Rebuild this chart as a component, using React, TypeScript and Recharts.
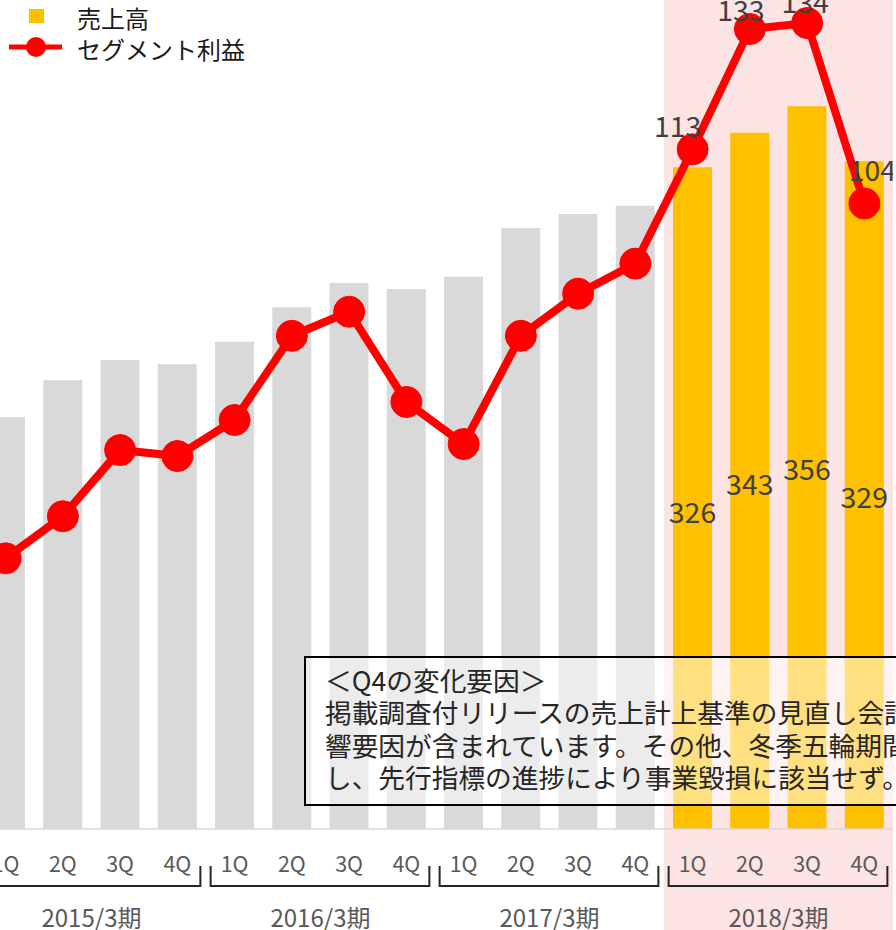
import React from 'react';
import { ComposedChart, Bar, Line, XAxis, YAxis, Cell, LabelList, ReferenceArea, Legend } from 'recharts';

const YEARS = ['2015/3期', '2016/3期', '2017/3期', '2018/3期'];
const QUARTERS = ['1Q', '2Q', '3Q', '4Q'];
const SALES = [203, 221, 231, 229, 240, 257, 269, 266, 272, 296, 303, 307, 326, 343, 356, 329];
const PROFIT = [45, 52, 63, 62, 68, 82, 86, 71, 64, 82, 89, 94, 113, 133, 134, 104];
const HIGHLIGHT_YEAR = '2018/3期';
const SALES_NAME = '売上高';
const PROFIT_NAME = 'セグメント利益';
const NOTE_LINES = [
  '＜Q4の変化要因＞',
  '掲載調査付リリースの売上計上基準の見直し会計',
  '響要因が含まれています。その他、冬季五輪期間',
  'し、先行指標の進捗により事業毀損に該当せず。',
];

const FONT = '"Noto Sans CJK JP", "Noto Sans", sans-serif';
const GRAY = '#D9D9D9';
const GOLD = '#FFC000';
const RED = '#FF0000';
const PINK = '#FDE4E4';
const CHART_W = 916;
const CHART_H = 930;
const AXIS_Y = 829;
const BAND = CHART_W / 16;

// label nudges (style only)
const LINE_LABEL_NUDGE = [[-15, -25], [-9, -21], [-2, -23], [8, -35]];
const BAR_LABEL_NUDGE = [12, 2, 0, 0];

const data = YEARS.flatMap((year, yi) =>
  QUARTERS.map((q, qi) => ({
    key: `${year}-${q}`,
    year,
    quarter: q,
    sales: SALES[yi * 4 + qi],
    profit: PROFIT[yi * 4 + qi],
  }))
);

const hlStart = data.findIndex((d) => d.year === HIGHLIGHT_YEAR);

function AxisTick(props: any) {
  const { x, payload } = props;
  const d = data.find((e) => e.key === payload.value);
  if (!d) return null;
  const isFirst = d.quarter === QUARTERS[0];
  return (
    <g>
      <text x={x} y={862} textAnchor="middle" dominantBaseline="central" fontSize={21.5} fill="#595959" fontFamily={FONT}>
        {d.quarter}
      </text>
      {isFirst && (
        <g>
          <path
            d={`M${x - 24},866 V886 H${x + 3 * BAND + 23} V866`}
            fill="none"
            stroke="#262626"
            strokeWidth={2}
          />
          <text x={x + 1.5 * BAND} y={916} textAnchor="middle" dominantBaseline="central" fontSize={24} fill="#595959" fontFamily={FONT}>
            {d.year}
          </text>
        </g>
      )}
    </g>
  );
}

function BarLabel(props: any) {
  const vb = props.viewBox || props;
  const index = props.index;
  const d = data[index];
  if (!d || d.year !== HIGHLIGHT_YEAR) return null;
  const x = (vb.x ?? props.x) + (vb.width ?? props.width) / 2;
  const y = (vb.y ?? props.y) + (vb.height ?? props.height) / 2 + (BAR_LABEL_NUDGE[index - hlStart] || 0);
  return (
    <text x={x} y={y} textAnchor="middle" dominantBaseline="central" fontSize={28.5} fill="#404040" fontFamily={FONT}>
      {props.value}
    </text>
  );
}

function LineLabel(props: any) {
  const vb = props.viewBox || {};
  const index = props.index;
  const d = data[index];
  if (!d || d.year !== HIGHLIGHT_YEAR) return null;
  const px = props.x ?? vb.x;
  const py = props.y ?? vb.y;
  const n = LINE_LABEL_NUDGE[index - hlStart] || [0, -24];
  return (
    <text x={px + n[0]} y={py + n[1]} textAnchor="middle" dominantBaseline="central" fontSize={28.5} fill="#404040" fontFamily={FONT}>
      {props.value}
    </text>
  );
}

function LegendContent() {
  return (
    <svg width={300} height={70} style={{ display: 'block' }}>
      <rect x={29} y={9} width={15} height={14} fill={GOLD} />
      <text x={77} y={17} dominantBaseline="central" fontSize={24} fill="#1a1a1a" fontFamily={FONT}>
        {SALES_NAME}
      </text>
      <line x1={9} x2={62} y1={47} y2={47} stroke={RED} strokeWidth={5} />
      <circle cx={36} cy={47} r={10} fill={RED} />
      <text x={77} y={48} dominantBaseline="central" fontSize={24} fill="#1a1a1a" fontFamily={FONT}>
        {PROFIT_NAME}
      </text>
    </svg>
  );
}

export default function App() {
  return (
    <div
      style={{
        position: 'absolute',
        left: 0,
        top: 0,
        width: 896,
        height: 930,
        overflow: 'hidden',
        background: '#fff',
        fontFamily: FONT,
      }}
    >
      <div style={{ position: 'absolute', left: -23, top: 0 }}>
        <ComposedChart
          width={CHART_W}
          height={CHART_H}
          data={data}
          margin={{ top: 17, right: 0, bottom: 0, left: 0 }}
          barSize={39}
        >
          <ReferenceArea
            x1={`${HIGHLIGHT_YEAR}-1Q`}
            x2={`${HIGHLIGHT_YEAR}-4Q`}
            yAxisId="s"
            ifOverflow="visible"
            shape={(p: any) => <rect x={p.x} y={0} width={p.width + 30} height={CHART_H} fill={PINK} />}
          />
          <XAxis
            dataKey="key"
            height={CHART_H - AXIS_Y}
            axisLine={{ stroke: GRAY, strokeWidth: 1.5 }}
            tickLine={false}
            interval={0}
            tick={<AxisTick />}
          />
          <YAxis yAxisId="s" hide domain={[0, 400]} />
          <YAxis yAxisId="p" hide domain={[0, 135]} orientation="right" />
          <Legend
            layout="vertical"
            align="center"
            verticalAlign="middle"
            wrapperStyle={{ left: 23, top: 0, width: 300, height: 70 }}
            content={<LegendContent />}
          />
          <Bar dataKey="sales" name={SALES_NAME} yAxisId="s" isAnimationActive={false}>
            {data.map((d) => (
              <Cell key={d.key} fill={d.year === HIGHLIGHT_YEAR ? GOLD : GRAY} />
            ))}
            <LabelList dataKey="sales" content={<BarLabel />} />
          </Bar>
          <Line
            dataKey="profit"
            name={PROFIT_NAME}
            yAxisId="p"
            stroke={RED}
            strokeWidth={8}
            dot={{ r: 15.5, fill: RED, stroke: RED, strokeWidth: 1 }}
            activeDot={false}
            isAnimationActive={false}
          >
            <LabelList dataKey="profit" content={<LineLabel />} />
          </Line>
        </ComposedChart>
      </div>
      <div
        style={{
          position: 'absolute',
          left: 304,
          top: 656,
          width: 700,
          height: 150,
          boxSizing: 'border-box',
          border: '2px solid #000',
          background: 'rgba(255,255,255,0.5)',
          padding: '6px 0 0 19px',
          fontSize: 26.7,
          lineHeight: '32.3px',
          color: '#262626',
          whiteSpace: 'nowrap',
          fontFamily: FONT,
        }}
      >
        {NOTE_LINES.map((l, i) => (
          <div key={i}>{l}</div>
        ))}
      </div>
    </div>
  );
}
